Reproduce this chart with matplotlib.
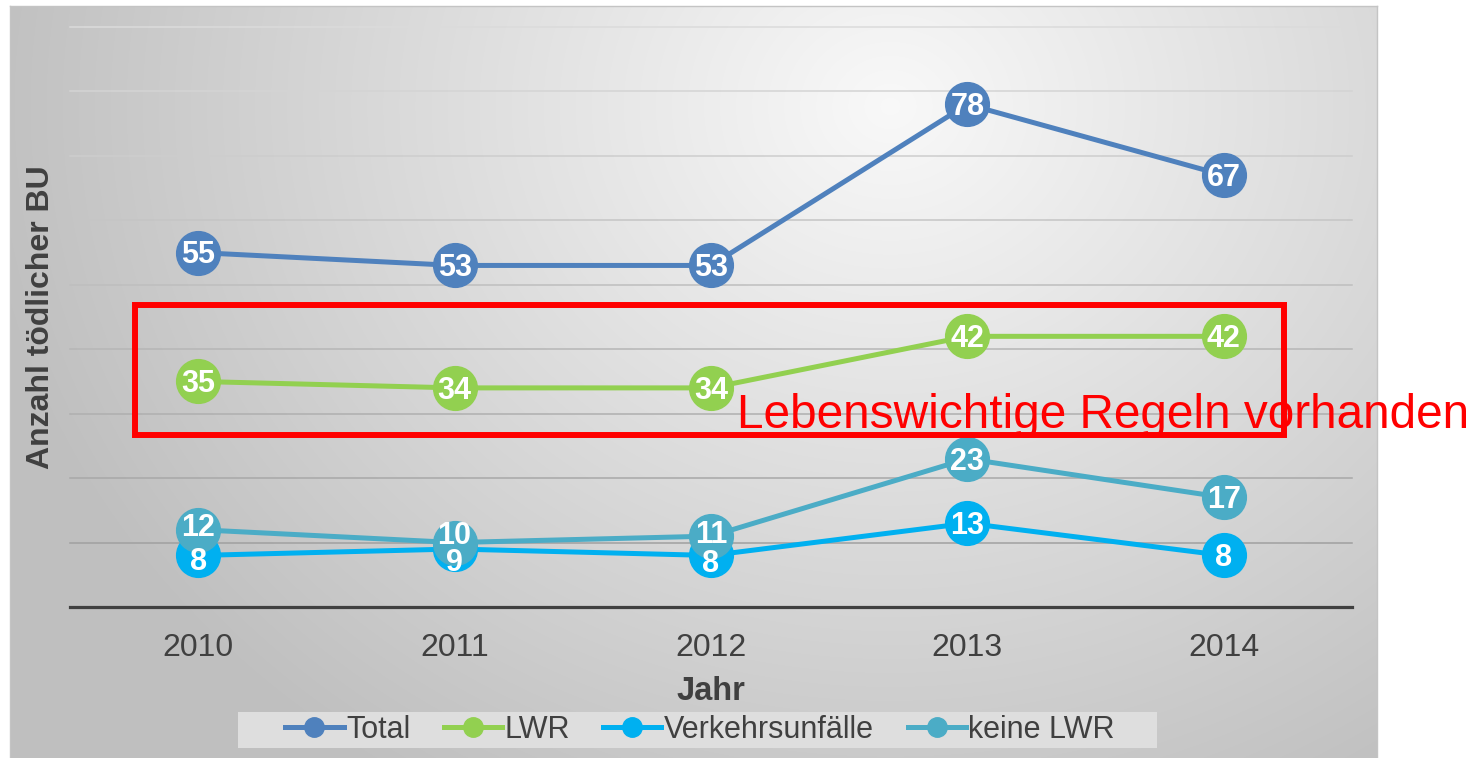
import numpy as np
import matplotlib
matplotlib.use("Agg")
import matplotlib.pyplot as plt
from matplotlib.lines import Line2D
from matplotlib.patches import Rectangle

# ---- data ----
years = ["2010", "2011", "2012", "2013", "2014"]
total = [55, 53, 53, 78, 67]
lwr = [35, 34, 34, 42, 42]
verkehr = [8, 9, 8, 13, 8]
keine_lwr = [12, 10, 11, 23, 17]

series_names = ["Total", "LWR", "Verkehrsunfälle", "keine LWR"]
series_values = [total, lwr, verkehr, keine_lwr]
colors = ["#4F81BD", "#92D050", "#00B0F0", "#4BACC6"]

# vertical label offsets (points); digits sit slightly low, close pairs are pushed apart
base_dy = -2
label_nudge = {(3, 0): 3, (2, 0): -3, (3, 1): 7, (2, 1): -8, (3, 2): 3, (2, 2): -4}

plt.rcParams["font.family"] = ["Liberation Sans", "DejaVu Sans"]
text_color = "#404040"

W, H = 1471, 758
fig = plt.figure(figsize=(W / 100, H / 100), dpi=100)

# ---- chart panel with radial grey gradient ----
pw, ph = 1367, 752
bg = fig.add_axes([10 / W, 0, pw / W, ph / H], zorder=-10)
gy, gx = np.mgrid[0:ph, 0:pw]
r = np.hypot(gx - 880, (gy - 100) * 1.15) / 920
r = np.clip(r, 0, 1)
shade = 0.975 - 0.225 * r
rgb = np.dstack([shade] * 3)
bg.imshow(rgb, aspect="auto", interpolation="bilinear")
bg.set_xticks([])
bg.set_yticks([])
for s in bg.spines.values():
    s.set_color("#c4c4c4")
    s.set_linewidth(1)
bg.spines["bottom"].set_visible(False)

# legend backdrop strip
fig.patches.append(Rectangle((238 / W, 1 - 748 / H), (1157 - 238) / W, 36 / H,
                             transform=fig.transFigure, facecolor="#dedede",
                             edgecolor="none", zorder=-5))

# ---- plot area ----
ax = fig.add_axes([70 / W, (H - 607) / H, 1282 / W, 580 / H])
ax.set_facecolor("none")
x = np.arange(len(years))
ax.set_xlim(-0.5, len(years) - 0.5)
ax.set_ylim(0, 90)

for v in range(10, 100, 10):
    g = 0.60 + 0.26 * (v / 90)
    ax.axhline(v, color=(g, g, g), lw=1.1, zorder=1, clip_on=False)

for s in ["top", "left", "right"]:
    ax.spines[s].set_visible(False)
ax.spines["bottom"].set_color(text_color)
ax.spines["bottom"].set_linewidth(2.3)
ax.spines["bottom"].set_zorder(2)

ax.set_yticks([])
ax.set_xticks(x)
ax.set_xticklabels(years, fontsize=23, color=text_color)
ax.tick_params(axis="x", length=0, pad=19)

ax.set_xlabel("Jahr", fontsize=23.5, fontweight="bold", color=text_color, labelpad=9)
ax.set_ylabel("Anzahl tödlicher BU", fontsize=23, fontweight="bold", color=text_color, labelpad=10)

for i, (name, vals, c) in enumerate(zip(series_names, series_values, colors)):
    ax.plot(x, vals, color=c, lw=3.6, marker="o", markersize=31.5,
            solid_capstyle="round", zorder=3 + i, clip_on=False)
    for j, v in enumerate(vals):
        ax.annotate(str(v), (x[j], v), xytext=(0, base_dy + label_nudge.get((i, j), 0)),
                    textcoords="offset points", ha="center", va="center",
                    color="white", fontsize=22, fontweight="bold", zorder=10)

# ---- highlighted region with caption ----
box = Rectangle((-0.246, 26.7), 4.235 + 0.246, 46.9 - 26.7, fill=False,
                edgecolor="#FF0000", lw=4.3, zorder=9, clip_on=False)
ax.add_patch(box)
ax.text(2.101, 27.8, "Lebenswichtige Regeln vorhanden", color="#FF0000",
        fontsize=34.4, va="baseline", ha="left", zorder=12, clip_on=False)

# ---- legend ----
handles = [Line2D([], [], color=c, lw=3.6, marker="o", markersize=14) for c in colors]
leg = ax.legend(handles, series_names, loc="center",
                bbox_to_anchor=(700 / W, 1 - 730 / H), bbox_transform=fig.transFigure,
                ncol=4, frameon=False, fontsize=22,
                handlelength=1.9, handletextpad=0.08, columnspacing=1.1)
for t in leg.get_texts():
    t.set_color(text_color)

fig.savefig("out.png", dpi=100)
